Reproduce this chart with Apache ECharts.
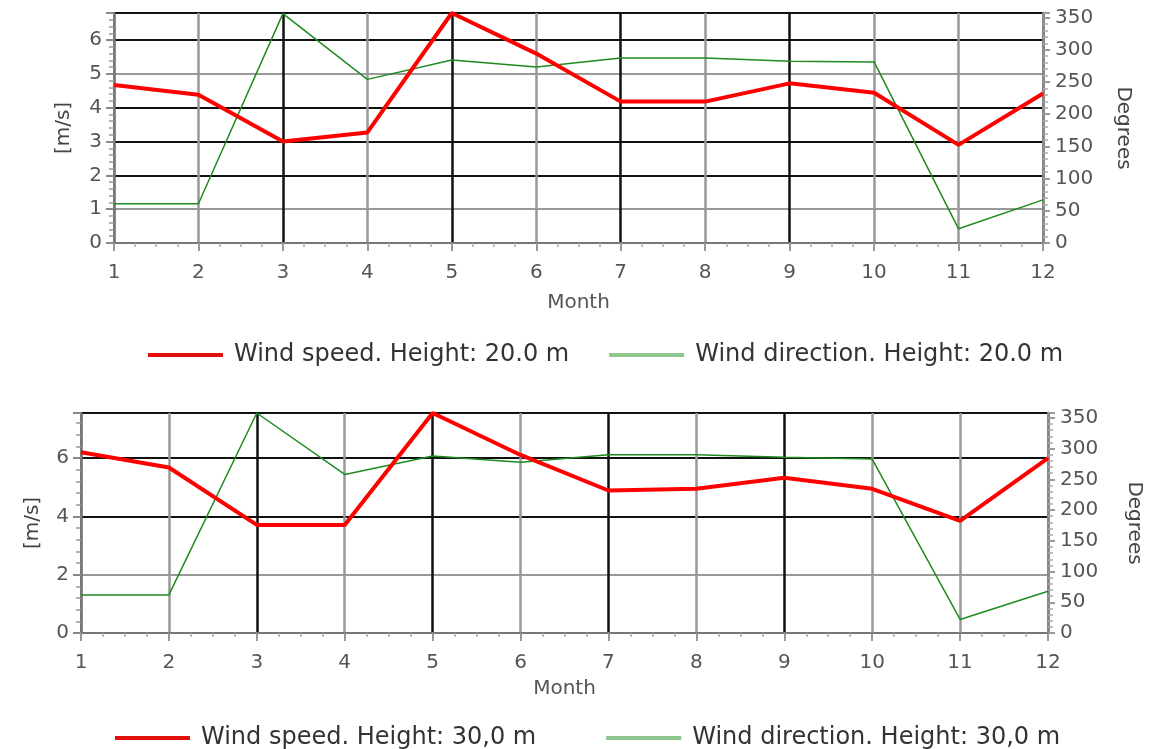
<!DOCTYPE html>
<html>
<head>
<meta charset="utf-8">
<script src="https://cdn.jsdelivr.net/npm/echarts@6/dist/echarts.min.js"></script>
<style>
html,body{margin:0;padding:0;background:#fff;}
#c{width:1160px;height:749px;}
</style>
</head>
<body>
<div id="c"></div>
<script>
var months = [1,2,3,4,5,6,7,8,9,10,11,12];
var speed20 = [4.67,4.38,3.0,3.27,6.8,5.6,4.18,4.18,4.72,4.44,2.9,4.42];
var dir20 = [61,61,356,254,284,273,287,287,282,281,22,67];
var speed30 = [6.2,5.68,3.71,3.71,7.55,6.11,4.89,4.95,5.33,4.95,3.85,6.0];
var dir30 = [62,62,358,258,288,278,290,290,286,283,22,68];
var nameSpeed20 = 'Wind speed. Height: 20.0 m';
var nameDir20 = 'Wind direction. Height: 20.0 m';
var nameSpeed30 = 'Wind speed. Height: 30,0 m';
var nameDir30 = 'Wind direction. Height: 30,0 m';
var xName = 'Month';
var leftName = '[m/s]';
var rightName = 'Degrees';

function pairs(vals){ return months.map(function(m,i){ return [m, vals[i]]; }); }

var FONT = 'DejaVu Sans';
var labelColor = '#555';
var vGridColors = ['#666','#999','#111','#999','#111','#999','#111','#999','#111','#999','#999','#666'];

function xAxis(gridIndex,margin,nameGap){
  return {
    type:'value', gridIndex:gridIndex, min:1, max:12, interval:1,
    name:xName, nameLocation:'middle', nameGap:nameGap,
    nameTextStyle:{fontFamily:FONT,fontSize:20,color:labelColor},
    axisLine:{show:true,onZero:false,lineStyle:{color:'#777',width:2}},
    axisTick:{show:true,length:8,lineStyle:{color:'#999',width:2}},
    minorTick:{show:true,splitNumber:4,length:4,lineStyle:{color:'#aaa',width:1.5}},
    axisLabel:{fontFamily:FONT,fontSize:20,color:labelColor,margin:margin},
    splitLine:{show:true,lineStyle:{color:vGridColors,width:2.5}}
  };
}
function leftAxis(gridIndex,max,interval,hColors,nameGap){
  return {
    type:'value', gridIndex:gridIndex, position:'left', min:0, max:max, interval:interval,
    name:leftName, nameLocation:'middle', nameGap:nameGap,
    nameTextStyle:{fontFamily:FONT,fontSize:20,color:'#444'},
    axisLine:{show:true,lineStyle:{color:'#777',width:2}},
    axisTick:{show:true,length:8,lineStyle:{color:'#888',width:2}},
    minorTick:{show:true,splitNumber:5,length:5,lineStyle:{color:'#999',width:1.5}},
    axisLabel:{fontFamily:FONT,fontSize:20,color:labelColor,margin:12,showMaxLabel:false},
    splitLine:{show:true,lineStyle:{color:hColors,width:2}}
  };
}
function rightAxis(gridIndex,max,nameGap){
  return {
    type:'value', gridIndex:gridIndex, position:'right', min:0, max:max, interval:50,
    name:rightName, nameLocation:'middle', nameGap:nameGap, nameRotate:-90,
    nameTextStyle:{fontFamily:FONT,fontSize:20,color:'#444'},
    axisLine:{show:true,lineStyle:{color:'#888',width:3}},
    axisTick:{show:true,length:7,lineStyle:{color:'#999',width:2}},
    minorTick:{show:true,splitNumber:5,length:5,lineStyle:{color:'#aaa',width:1.5}},
    axisLabel:{fontFamily:FONT,fontSize:20,color:labelColor,margin:12,showMaxLabel:false},
    splitLine:{show:false}
  };
}
function speedSeries(name,vals,xi,yi){
  return {name:name,type:'line',xAxisIndex:xi,yAxisIndex:yi,data:pairs(vals),
    symbol:'none',lineStyle:{color:'#f00',width:4},itemStyle:{color:'#f00'},z:4};
}
function dirSeries(name,vals,xi,yi){
  return {name:name,type:'line',xAxisIndex:xi,yAxisIndex:yi,data:pairs(vals),
    symbol:'none',lineStyle:{color:'#1f8a1f',width:1.5},itemStyle:{color:'#1f8a1f'},z:3};
}
function legend(left,top,gap,n1,n2){
  return {
    left:left, top:top, itemWidth:75, itemHeight:4, itemGap:gap,
    textStyle:{fontFamily:FONT,fontSize:24,color:'#333',padding:[0,0,0,6]},
    data:[
      {name:n1,icon:'rect',itemStyle:{color:'#e31010',borderWidth:0}},
      {name:n2,icon:'rect',itemStyle:{color:'#8cc68c',borderWidth:0}}
    ]
  };
}

var chart = echarts.init(document.getElementById('c'));
chart.setOption({
  backgroundColor:'#fff',
  animation:false,
  grid:[
    {left:114, top:13, width:929, height:230, show:true, borderColor:'#222', borderWidth:1.5, backgroundColor:'#fff'},
    {left:81, top:413, width:967, height:220, show:true, borderColor:'#222', borderWidth:1.5, backgroundColor:'#fff'}
  ],
  xAxis:[xAxis(0,20,50), xAxis(1,20,46)],
  yAxis:[
    leftAxis(0,6.8,1,['#888','#999','#111','#111','#111','#999','#111','#111'],40),
    rightAxis(0,357,70),
    leftAxis(1,7.55,2,['#888','#999','#111','#111','#111'],38),
    rightAxis(1,358,76)
  ],
  legend:[
    legend(143,338,40,nameSpeed20,nameDir20),
    legend(110,721,70,nameSpeed30,nameDir30)
  ],
  series:[
    speedSeries(nameSpeed20,speed20,0,0),
    dirSeries(nameDir20,dir20,0,1),
    speedSeries(nameSpeed30,speed30,1,2),
    dirSeries(nameDir30,dir30,1,3)
  ]
});
</script>
</body>
</html>
